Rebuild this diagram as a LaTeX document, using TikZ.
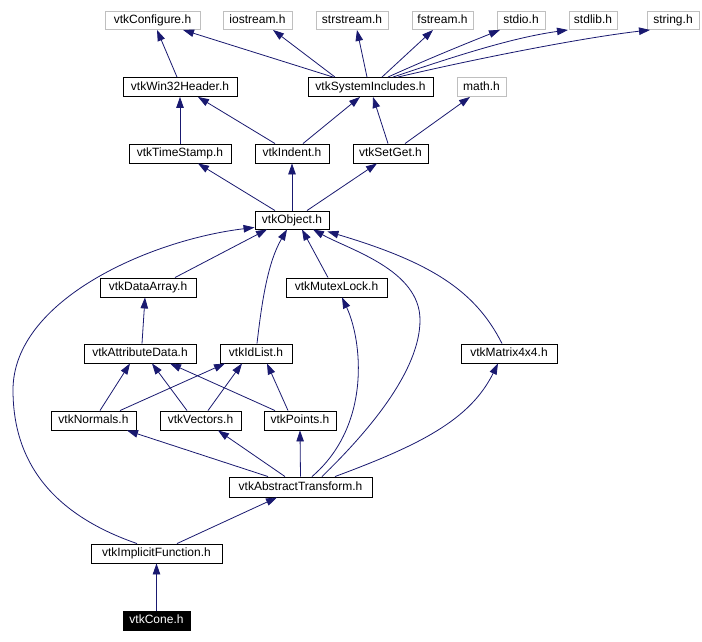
\documentclass[tikz,border=0pt]{standalone}
\usepackage{fontspec}
\setmainfont{Liberation Sans}
\usetikzlibrary{arrows.meta}
\definecolor{edgecol}{HTML}{191970}
\definecolor{graybox}{HTML}{BFBFBF}
\tikzset{
  hdr/.style={draw=black, line width=0.9pt, fill=white, inner sep=0pt, minimum height=19pt, text height=9pt, text depth=2.5pt, font=\fontsize{12}{12}\selectfont},
  sys/.style={hdr, draw=graybox},
  cur/.style={hdr, fill=black, text=white},
  e/.style={draw=edgecol, line width=0.8pt, -{Triangle[length=11pt,width=7.5pt]}}
}
\begin{document}
\begin{tikzpicture}[x=1pt,y=-1pt]
\useasboundingbox[fill=white] (0,0) rectangle (702,642);
% row 1
\node[sys, minimum width=95pt, minimum height=18pt] (conf) at (152.5,20.5) {vtkConfigure.h};
\node[sys, minimum width=69pt, minimum height=18pt] (iost) at (257.5,20.5) {iostream.h};
\node[sys, minimum width=72pt, minimum height=18pt] (strs) at (352,20.5) {strstream.h};
\node[sys, minimum width=61pt, minimum height=18pt] (fstr) at (442.5,20.5) {fstream.h};
\node[sys, minimum width=48pt, minimum height=18pt] (stdio) at (521,20.5) {stdio.h};
\node[sys, minimum width=48pt, minimum height=18pt] (stdlib) at (593,20.5) {stdlib.h};
\node[sys, minimum width=52pt, minimum height=18pt] (string) at (673,20.5) {string.h};
% row 2
\node[hdr, minimum width=114pt] (win) at (180,87) {vtkWin32Header.h};
\node[hdr, minimum width=125pt] (sysinc) at (370.5,87) {vtkSystemIncludes.h};
\node[sys, minimum width=49pt] (math) at (481.5,87) {math.h};
% row 3
\node[hdr, minimum width=102pt] (ts) at (180,153.5) {vtkTimeStamp.h};
\node[hdr, minimum width=74pt] (ind) at (292,153.5) {vtkIndent.h};
\node[hdr, minimum width=75pt] (sg) at (390.5,153.5) {vtkSetGet.h};
% row 4
\node[hdr, minimum width=74pt, minimum height=18pt] (obj) at (292,220) {vtkObject.h};
% row 5
\node[hdr, minimum width=96pt] (da) at (148,287.5) {vtkDataArray.h};
\node[hdr, minimum width=101pt] (mut) at (336.5,287.5) {vtkMutexLock.h};
% row 6
\node[hdr, minimum width=112pt] (attr) at (140,353.5) {vtkAttributeData.h};
\node[hdr, minimum width=72pt] (idl) at (256,353.5) {vtkIdList.h};
\node[hdr, minimum width=96pt] (mat) at (509,353.5) {vtkMatrix4x4.h};
% row 7
\node[hdr, minimum width=85pt] (nor) at (93.5,420.5) {vtkNormals.h};
\node[hdr, minimum width=81pt] (vec) at (200.5,420.5) {vtkVectors.h};
\node[hdr, minimum width=72pt] (pts) at (300,420.5) {vtkPoints.h};
% row 8
\node[hdr, minimum width=143pt, minimum height=20pt] (abs) at (300.5,487) {vtkAbstractTransform.h};
% row 9
\node[hdr, minimum width=131pt] (impl) at (156.5,553.5) {vtkImplicitFunction.h};
% row 10
\node[cur, minimum width=67pt] (cone) at (156.5,620.5) {vtkCone.h};

% edges
\draw[e] ([xshift=-3]win.north) -- ([xshift=4.5]conf.south);
\draw[e] ([xshift=-37.5]sysinc.north) -- ([xshift=30.5]conf.south);
\draw[e] ([xshift=-35.5]sysinc.north) -- ([xshift=15.5]iost.south);
\draw[e] ([xshift=-3.5]sysinc.north) -- ([xshift=5]strs.south);
\draw[e] ([xshift=11.5]sysinc.north) -- ([xshift=-9.5]fstr.south);
\draw[e] ([xshift=17.5]sysinc.north) .. controls (430,58) and (470,42) .. ([xshift=-21]stdio.south);
\draw[e] ([xshift=22.5]sysinc.north) .. controls (450,58) and (510,38) .. ([xshift=-25]stdlib.south);
\draw[e] ([xshift=27.5]sysinc.north) .. controls (470,60) and (580,38) .. ([xshift=-23]string.south);

\draw[e] (ts.north) -- (win.south);
\draw[e] ([xshift=-17]ind.north) -- ([xshift=18]win.south);
\draw[e] ([xshift=11]ind.north) -- ([xshift=-10.5]sysinc.south);
\draw[e] ([xshift=-2.5]sg.north) -- ([xshift=2.5]sysinc.south);
\draw[e] ([xshift=14.5]sg.north) -- ([xshift=-11.5]math.south);

\draw[e] ([xshift=-17]obj.north) -- ([xshift=18]ts.south);
\draw[e] (obj.north) -- (ind.south);
\draw[e] ([xshift=15]obj.north) -- ([xshift=-13.5]sg.south);

\draw[e] ([xshift=-19.5]impl.north) .. controls (40,510) and (13,450) .. (13,390)
  .. controls (13,300) and (150,240) .. ([yshift=2]obj.south west);
\draw[e] ([xshift=27]da.north) -- ([xshift=-25]obj.south);
\draw[e] ([xshift=1]idl.north) .. controls (262,300) and (268,262) .. ([xshift=-5]obj.south);
\draw[e] ([xshift=-8.5]mut.north) -- ([xshift=10]obj.south);
\draw[e] ([xshift=21.5]abs.north) .. controls (370,430) and (420,370) .. (420,320)
  .. controls (420,270) and (350,250) .. ([xshift=21]obj.south);
\draw[e] ([xshift=-7]mat.north) .. controls (475,290) and (430,262) .. ([xshift=-2,yshift=-2]obj.south east);

\draw[e] ([xshift=2]attr.north) -- ([xshift=-3]da.south);

\draw[e] ([xshift=6.5]nor.north) -- ([xshift=-10]attr.south);
\draw[e] ([xshift=-13.5]vec.north) -- ([xshift=12]attr.south);
\draw[e] ([xshift=-25]pts.north) -- ([xshift=30]attr.south);
\draw[e] ([xshift=26.5]nor.north) -- ([xshift=-31]idl.south);
\draw[e] ([xshift=7.5]vec.north) -- ([xshift=-14]idl.south);
\draw[e] ([xshift=-12]pts.north) -- ([xshift=11]idl.south);

\draw[e] ([xshift=-32.5]abs.north) -- ([xshift=33.5]nor.south);
\draw[e] ([xshift=-15.5]abs.north) -- ([xshift=17.5]vec.south);
\draw[e] (abs.north) -- (pts.south);
\draw[e] ([xshift=11.5]abs.north) .. controls (372,425) and (362,340) .. ([xshift=5.5]mut.south);
\draw[e] ([xshift=34.5]abs.north) .. controls (420,445) and (470,420) .. ([xshift=-11]mat.south);

\draw[e] ([xshift=20.5]impl.north) -- ([xshift=-23.5]abs.south);
\draw[e] (cone.north) -- (impl.south);
\end{tikzpicture}
\end{document}
